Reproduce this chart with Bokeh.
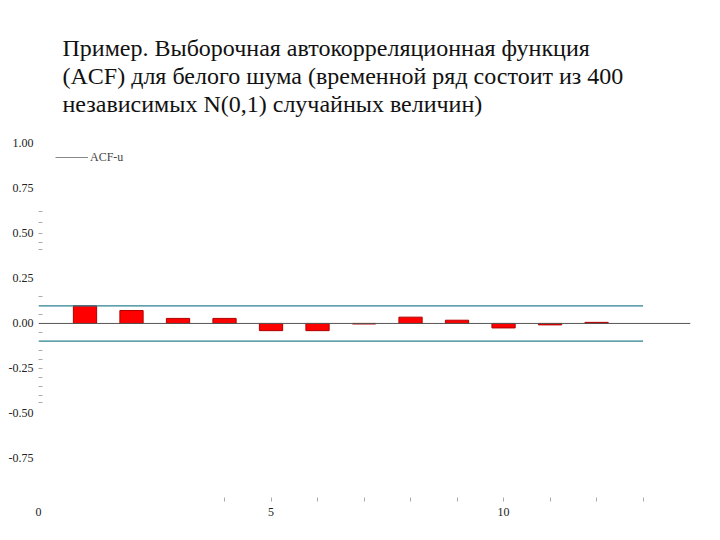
from bokeh.plotting import figure
from bokeh.models import Title, Span, FixedTicker, NumeralTickFormatter, Range1d, CDSView, IndexFilter, ColumnDataSource
from bokeh.embed import file_html
from bokeh.resources import INLINE

# ---- data ----
lags = [1, 2, 3, 4, 5, 6, 7, 8, 9, 10, 11, 12]
acf = [0.098, 0.072, 0.028, 0.028, -0.040, -0.040, -0.003, 0.035, 0.018, -0.025, -0.008, 0.006]
conf_bound = 0.098
band_x = [0, 13]
y_ticks = [-0.75, -0.50, -0.25, 0.0, 0.25, 0.50, 0.75, 1.00]
y_minor = [0.62, 0.56, 0.50, 0.45, 0.41, 0.15, 0.05, -0.05, -0.15, -0.20, -0.25, -0.30, -0.35, -0.40, -0.44]
x_ticks = [0, 5, 10]
x_minor = [4, 5, 6, 7, 8, 9, 10, 11, 12, 13]
title_lines = [
    "Пример. Выборочная автокорреляционная функция",
    "(ACF) для белого шума (временной ряд состоит из 400",
    "независимых  N(0,1) случайных величин)",
]
legend_label = "ACF-u"

SERIF = "'Liberation Serif'"

p = figure(frame_width=652, frame_height=367,
           min_border_left=38, min_border_top=130, min_border_right=22, min_border_bottom=35,
           x_range=Range1d(0, 14.02), y_range=Range1d(-0.967, 1.072),
           output_backend="svg", toolbar_location=None)
p.outline_line_color = None
p.grid.visible = False
p.background_fill_color = "white"
p.border_fill_color = "white"

p.add_layout(Title(text="\n".join(title_lines), align="left", offset=24,
                   text_font=SERIF, text_font_size="24px",
                   text_font_style="normal", text_color="#111111",
                   text_line_height=1.08, standoff=26), "above")

src = ColumnDataSource(data=dict(lag=lags, acf=acf))

# bars
p.vbar(x="lag", top="acf", bottom=0, width=0.5, fill_color="#ff0000",
       line_color="#b00000", line_width=1, source=src)

# zero line
p.add_layout(Span(location=0, dimension="width", line_color="#555555", line_width=1))

# confidence bands
for s in (1, -1):
    p.line(x=band_x, y=[s * conf_bound, s * conf_bound], line_color="#2a8090", line_width=1.2)

# legend entry for the ACF series
p.line(x="lag", y="acf", source=src, view=CDSView(filter=IndexFilter([0])),
       line_color="#888888", line_width=1, legend_label=legend_label)
p.legend.location = "top_left"
p.legend.margin = 17
p.legend.padding = 0
p.legend.spacing = 0
p.legend.glyph_width = 33
p.legend.glyph_height = 20
p.legend.label_standoff = 2
p.legend.label_text_font = SERIF
p.legend.label_text_font_size = "12px"
p.legend.label_text_color = "#444444"
p.legend.border_line_color = None
p.legend.background_fill_alpha = 0

# y axis
ya = p.yaxis[0]
ya.ticker = FixedTicker(ticks=y_ticks, minor_ticks=y_minor)
ya.formatter = NumeralTickFormatter(format="0.00")
ya.axis_line_color = None
ya.major_tick_line_color = None
ya.major_tick_in = 0
ya.major_tick_out = 0
ya.minor_tick_line_color = "#aaaaaa"
ya.minor_tick_in = 4
ya.minor_tick_out = 0
ya.major_label_standoff = 5
ya.major_label_text_font = SERIF
ya.major_label_text_font_size = "12px"
ya.major_label_text_color = "#222222"

# x axis
xa = p.xaxis[0]
xa.ticker = FixedTicker(ticks=x_ticks, minor_ticks=x_minor)
xa.axis_line_color = None
xa.major_tick_line_color = None
xa.major_tick_in = 0
xa.major_tick_out = 0
xa.minor_tick_line_color = "#aaaaaa"
xa.minor_tick_in = 0
xa.minor_tick_out = 4
xa.major_label_standoff = 6
xa.major_label_text_font = SERIF
xa.major_label_text_font_size = "12px"
xa.major_label_text_color = "#222222"

open("out.html", "w").write(file_html(p, INLINE))
